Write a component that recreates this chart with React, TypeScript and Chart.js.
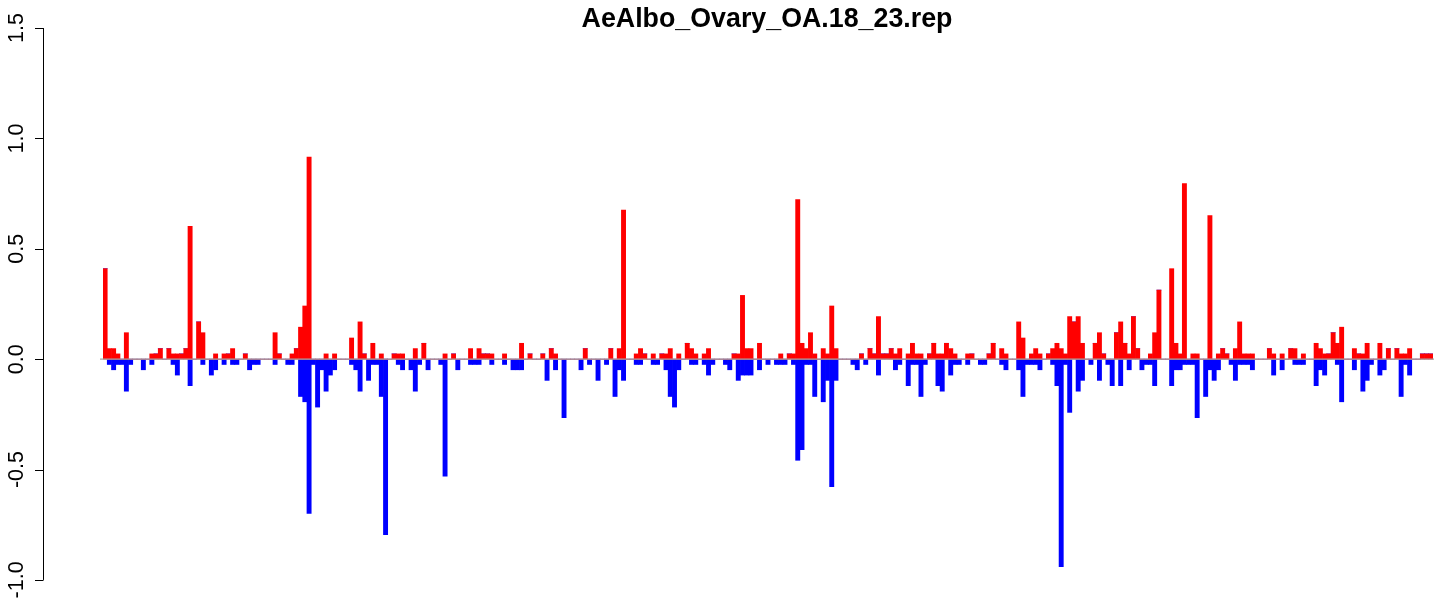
import React, { useEffect, useRef } from "react";
import { Chart, registerables } from "chart.js";

Chart.register(...registerables);

const chartTitle = "AeAlbo_Ovary_OA.18_23.rep";
const yTickValues = [-1.0, -0.5, 0.0, 0.5, 1.0, 1.5];
const yTickLabels = ["-1.0", "-0.5", "0.0", "0.5", "1.0", "1.5"];
const yMin = -1.1;
const yMax = 1.6;

const redValues = [
  0.41, 0.048, 0.048, 0.024, 0, 0.12, 0, 0, 0, 0,
  0, 0.024, 0.024, 0.048, 0, 0.048, 0.024, 0.024, 0.024, 0.048,
  0.602, 0, 0.169, 0.12, 0, 0, 0.024, 0, 0.024, 0.024,
  0.048, 0, 0, 0.024, 0, 0, 0, 0, 0, 0,
  0.12, 0.024, 0, 0, 0.024, 0.048, 0.145, 0.241, 0.916, 0,
  0, 0, 0.024, 0, 0.024, 0, 0, 0, 0.096, 0,
  0.169, 0.024, 0, 0.072, 0, 0.024, 0, 0, 0.024, 0.024,
  0.024, 0, 0, 0.048, 0, 0.072, 0, 0, 0, 0,
  0.024, 0, 0.024, 0, 0, 0, 0.048, 0, 0.048, 0.024,
  0.024, 0.024, 0, 0, 0.024, 0, 0, 0, 0.072, 0,
  0.024, 0, 0, 0.024, 0, 0.048, 0.024, 0, 0, 0,
  0, 0, 0, 0.048, 0, 0, 0, 0, 0, 0.048,
  0, 0.048, 0.675, 0, 0, 0.024, 0.048, 0.024, 0, 0.024,
  0, 0.024, 0.024, 0.048, 0, 0.024, 0, 0.072, 0.048, 0.024,
  0, 0.024, 0.048, 0, 0, 0, 0, 0, 0.024, 0.024,
  0.289, 0.048, 0.048, 0, 0.072, 0, 0, 0, 0, 0.024,
  0, 0.024, 0.024, 0.723, 0.072, 0.048, 0.12, 0.024, 0, 0.048,
  0.024, 0.241, 0.048, 0, 0, 0, 0, 0, 0.024, 0,
  0.048, 0.024, 0.193, 0.024, 0.024, 0.048, 0.024, 0.048, 0, 0.024,
  0.072, 0.024, 0.024, 0, 0.024, 0.072, 0.024, 0.024, 0.072, 0.048,
  0.024, 0, 0, 0.024, 0.024, 0, 0, 0, 0.024, 0.072,
  0, 0.048, 0.024, 0, 0, 0.169, 0.096, 0, 0.024, 0.048,
  0.024, 0, 0.024, 0.048, 0.072, 0.048, 0.024, 0.193, 0.169, 0.193,
  0.072, 0, 0, 0.072, 0.12, 0.024, 0, 0, 0.12, 0.169,
  0.072, 0.024, 0.193, 0.048, 0, 0, 0.024, 0.12, 0.313, 0,
  0, 0.41, 0.072, 0.024, 0.795, 0, 0.024, 0.024, 0, 0,
  0.651, 0, 0.024, 0.048, 0.024, 0, 0.048, 0.169, 0.024, 0.024,
  0.024, 0, 0, 0, 0.048, 0.024, 0, 0.024, 0, 0.048,
  0.048, 0, 0.024, 0, 0, 0.072, 0.048, 0.024, 0.024, 0.12,
  0.072, 0.145, 0, 0, 0.048, 0.024, 0.024, 0.072, 0, 0,
  0.072, 0, 0.048, 0, 0.048, 0.024, 0.024, 0.048, 0, 0,
  0.024, 0.024, 0.024,
];

const blueValues = [
  0, -0.024, -0.048, -0.024, -0.024, -0.145, -0.024, 0, 0, -0.048,
  0, -0.024, 0, 0, 0, 0, -0.024, -0.072, 0, 0,
  -0.12, 0, 0, -0.024, 0, -0.072, -0.048, 0, -0.024, 0,
  -0.024, -0.024, 0, 0, -0.048, -0.024, -0.024, 0, 0, 0,
  -0.024, 0, 0, -0.024, -0.024, 0, -0.169, -0.193, -0.699, -0.024,
  -0.217, -0.048, -0.145, -0.072, -0.048, 0, 0, 0, -0.024, -0.048,
  -0.145, 0, -0.096, -0.024, -0.024, -0.169, -0.795, 0, 0, -0.024,
  -0.048, 0, -0.048, -0.145, -0.024, 0, -0.048, 0, 0, -0.024,
  -0.53, 0, 0, -0.048, 0, 0, -0.024, -0.024, -0.024, 0,
  0, -0.024, 0, 0, -0.024, 0, -0.048, -0.048, -0.048, 0,
  0, 0, 0, 0, -0.096, 0, -0.048, 0, -0.265, 0,
  0, 0, -0.048, 0, -0.024, 0, -0.096, 0, -0.024, 0,
  -0.169, -0.048, -0.096, 0, 0, -0.024, -0.024, 0, 0, -0.024,
  -0.024, 0, -0.048, -0.169, -0.217, -0.048, 0, 0, -0.024, -0.024,
  0, -0.024, -0.072, -0.024, 0, 0, -0.024, -0.048, 0, -0.096,
  -0.072, -0.072, -0.072, 0, -0.048, 0, -0.024, 0, -0.024, -0.024,
  -0.024, 0, -0.024, -0.458, -0.41, -0.024, -0.024, -0.169, 0, -0.193,
  -0.096, -0.578, -0.096, 0, 0, 0, -0.024, -0.048, 0, -0.024,
  0, 0, -0.072, 0, 0, 0, -0.048, -0.024, 0, -0.12,
  -0.024, -0.024, -0.169, -0.024, 0, 0, -0.12, -0.145, 0, -0.072,
  -0.024, -0.024, 0, -0.024, 0, 0, -0.024, -0.024, 0, 0,
  0, -0.024, -0.048, 0, 0, -0.048, -0.169, -0.024, -0.024, -0.024,
  -0.048, 0, 0, -0.024, -0.12, -0.94, -0.024, -0.241, 0, -0.145,
  -0.096, 0, -0.024, 0, -0.096, 0, -0.024, -0.12, 0, -0.12,
  0, -0.048, 0, 0, -0.048, -0.024, -0.024, -0.12, 0, 0,
  0, -0.12, -0.048, -0.048, -0.024, -0.024, -0.024, -0.265, 0, -0.169,
  -0.048, -0.096, -0.048, 0, 0, -0.024, -0.096, -0.024, -0.024, -0.024,
  -0.048, 0, 0, 0, 0, -0.072, 0, -0.048, 0, 0,
  -0.024, -0.024, -0.024, 0, 0, -0.12, -0.048, -0.072, 0, 0,
  -0.024, -0.193, 0, 0, -0.048, 0, -0.145, -0.096, -0.024, 0,
  -0.072, -0.048, 0, 0, 0, -0.169, -0.024, -0.072, 0, 0,
  0, 0, 0,
];

const binLabels = redValues.map((_, i) => String(i + 1));

const W = 1441;
const H = 609;
const AXIS_X = 43;

const rStylePlugin = {
  id: "rStyle",
  afterDatasetsDraw(chart: any) {
    const { ctx, chartArea, scales } = chart;
    const y = scales.y;
    ctx.save();
    const y0 = y.getPixelForValue(0);
    ctx.strokeStyle = "#a6a6a6";
    ctx.lineWidth = 1.3;
    ctx.beginPath();
    ctx.moveTo(chartArea.left - 3, y0);
    ctx.lineTo(chartArea.right + 1, y0);
    ctx.stroke();
    ctx.restore();
  },
  afterDraw(chart: any) {
    const { ctx, scales } = chart;
    const y = scales.y;
    ctx.save();
    ctx.strokeStyle = "#000";
    ctx.lineWidth = 1;
    const top = y.getPixelForValue(yTickValues[yTickValues.length - 1]);
    const bot = y.getPixelForValue(yTickValues[0]);
    ctx.beginPath();
    ctx.moveTo(AXIS_X + 0.5, top);
    ctx.lineTo(AXIS_X + 0.5, bot);
    yTickValues.forEach((v) => {
      const py = Math.round(y.getPixelForValue(v)) + 0.5;
      ctx.moveTo(AXIS_X + 0.5, py);
      ctx.lineTo(AXIS_X - 8, py);
    });
    ctx.stroke();
    ctx.fillStyle = "#000";
    ctx.font = '21.5px "Liberation Sans", Arial, sans-serif';
    ctx.textAlign = "center";
    ctx.textBaseline = "alphabetic";
    yTickValues.forEach((v, i) => {
      const py = y.getPixelForValue(v);
      ctx.save();
      ctx.translate(23, py);
      ctx.rotate(-Math.PI / 2);
      ctx.fillText(yTickLabels[i], 0, 0);
      ctx.restore();
    });
    ctx.font = 'bold 26.8px "Liberation Sans", Arial, sans-serif';
    ctx.textAlign = "center";
    ctx.textBaseline = "alphabetic";
    ctx.fillText(chartTitle, 767, 27);
    ctx.restore();
  },
};

export default function App() {
  const ref = useRef<HTMLCanvasElement | null>(null);
  useEffect(() => {
    document.body.style.margin = "0";
    const canvas = ref.current;
    if (!canvas) return;
    const chart = new Chart(canvas, {
      type: "bar",
      data: {
        labels: binLabels,
        datasets: [
          {
            label: "up",
            data: redValues,
            backgroundColor: "#ff0000",
            borderWidth: 0,
            barPercentage: 1,
            categoryPercentage: 1,
          },
          {
            label: "down",
            data: blueValues,
            backgroundColor: "#0000ff",
            borderWidth: 0,
            barPercentage: 1,
            categoryPercentage: 1,
          },
        ],
      },
      options: {
        animation: false,
        responsive: false,
        devicePixelRatio: 1,
        layout: { padding: { left: 103, right: 8, top: 6, bottom: 7 } },
        plugins: { legend: { display: false }, title: { display: false }, tooltip: { enabled: false } },
        scales: {
          x: { display: false, stacked: true, grid: { display: false } },
          y: { display: false, stacked: true, min: yMin, max: yMax, grid: { display: false } },
        },
      },
      plugins: [rStylePlugin],
    });
    return () => chart.destroy();
  }, []);
  return (
    <div style={{ position: "fixed", left: 0, top: 0, width: W, height: H, background: "#fff" }}>
      <canvas ref={ref} width={W} height={H} style={{ display: "block" }} />
    </div>
  );
}
